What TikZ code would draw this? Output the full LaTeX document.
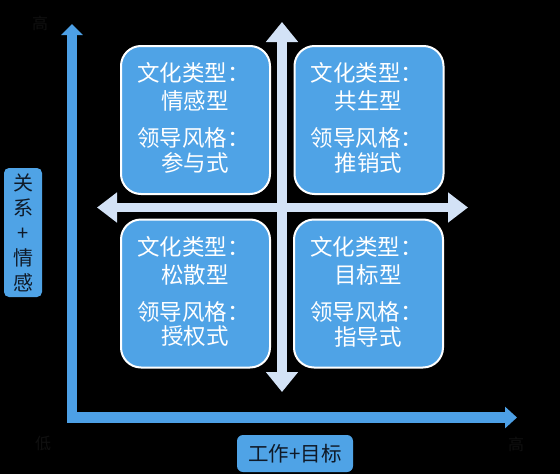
\documentclass[tikz,border=0pt]{standalone}
\usepackage{fontspec}
\newfontfamily\cjk{Noto Sans CJK SC}
\usetikzlibrary{arrows.meta,calc}
\definecolor{boxblue}{HTML}{4FA3E6}
\definecolor{axisblue}{HTML}{4DA0E6}
\definecolor{crossblue}{HTML}{D3E2F6}
\definecolor{labeltext}{HTML}{0F1A28}
\definecolor{faint}{HTML}{101010}
\newcommand\qtxt[3]{%
  \node[qtext] (#1a) at ($(#1.north west)+(17,28)$) {文化类型：};
  \node[qtext] (#1b) at ($(#1.north west)+(41,56)$) {#2};
  \node[qtext] (#1c) at ($(#1.north west)+(17,93)$) {领导风格：};
  \node[qtext] (#1d) at ($(#1.north west)+(41,118)$) {#3};
}
\begin{document}
\begin{tikzpicture}[x=1pt,y=-1pt,
  quad/.style={draw=white, line width=2pt, fill=boxblue, rounded corners=20pt, minimum width=149pt, minimum height=148pt, inner sep=0pt},
  qtext/.style={anchor=west, text=white, font=\cjk\fontsize{22.5}{26}\selectfont, inner sep=0pt},
  axis/.style={draw=axisblue, line width=10.5pt, line join=miter},
  cross/.style={draw=crossblue, line width=9.5pt},
  tag/.style={fill=boxblue, rounded corners=5pt, text=labeltext, inner sep=0pt},
  faintlabel/.style={text=faint, font=\cjk\fontsize{16}{18}\selectfont, inner sep=0pt}
]
\fill[black] (0,0) rectangle (560,474);
\useasboundingbox (0,0) rectangle (560,474);

% axes
\coordinate (ytop) at (72,24);
\coordinate (origin) at (72,417.5);
\coordinate (xend) at (517,417.5);
\draw[axis, {Triangle[length=11pt,width=21pt]}-{Triangle[length=12pt,width=21pt]}] (ytop) -- (origin) -- (xend);

% cross arrows
\coordinate (cl) at (97,207.5);
\coordinate (cr) at (468,207.5);
\coordinate (ct) at (282,22);
\coordinate (cb) at (282,392);
\draw[cross, {Triangle[length=20pt,width=29pt]}-{Triangle[length=20pt,width=29pt]}] (cl) -- (cr);
\draw[cross, {Triangle[length=20pt,width=31pt]}-{Triangle[length=20pt,width=31pt]}] (ct) -- (cb);

% quadrant boxes
\node[quad] (tl) at (195.5,120) {};
\node[quad] (tr) at (369,120) {};
\node[quad] (bl) at (195.5,293.5) {};
\node[quad] (br) at (368.5,293.5) {};
\qtxt{tl}{情感型}{参与式}
\qtxt{tr}{共生型}{推销式}
\qtxt{bl}{松散型}{授权式}
\qtxt{br}{目标型}{指导式}

% axis tags
\node[tag, minimum width=38pt, minimum height=129pt, align=center, font=\cjk\fontsize{20}{25}\selectfont] (rel) at (23,232.5) {关\\系\\+\\情\\感};
\node[tag, minimum width=116pt, minimum height=37pt, rounded corners=6pt, font=\cjk\fontsize{20.5}{24}\selectfont] (goal) at (295,453.5) {工作+目标};

% faint end labels
\node[faintlabel] (hiy) at (40,23) {高};
\node[faintlabel] (lox) at (43,443) {低};
\node[faintlabel] (hix) at (516,444) {高};
\end{tikzpicture}
\end{document}
